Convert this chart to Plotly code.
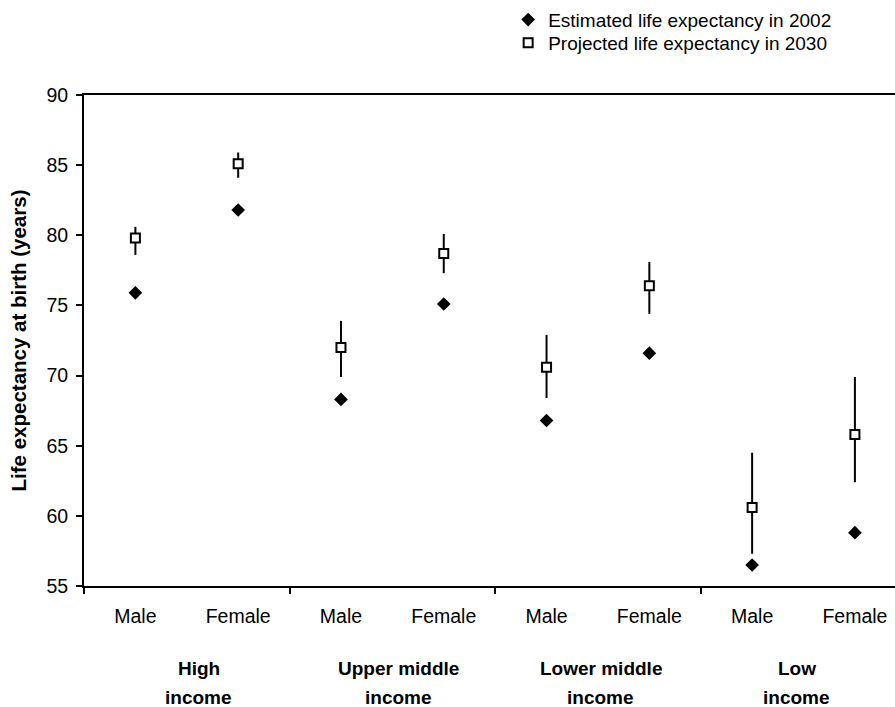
import plotly.graph_objects as go

# Income groups and sexes, in drawing order along the x axis
groups = ["High", "Upper middle", "Lower middle", "Low"]
group_second_line = ["income", "income", "income", "income"]
sexes = ["Male", "Female", "Male", "Female", "Male", "Female", "Male", "Female"]

# Life expectancy at birth (years)
estimated_2002 = [75.9, 81.8, 68.3, 75.1, 66.8, 71.6, 56.5, 58.8]
projected_2030 = [79.8, 85.1, 72.0, 78.7, 70.6, 76.4, 60.6, 65.8]
projected_high = [80.6, 85.9, 73.9, 80.1, 72.9, 78.1, 64.5, 69.9]
projected_low = [78.6, 84.1, 69.9, 77.3, 68.4, 74.4, 57.3, 62.4]

y_ticks = [55, 60, 65, 70, 75, 80, 85, 90]

x_pos = list(range(len(sexes)))
err_plus = [h - p for h, p in zip(projected_high, projected_2030)]
err_minus = [p - l for p, l in zip(projected_2030, projected_low)]

FONT = "Liberation Sans, Arial, sans-serif"

fig = go.Figure()

fig.add_trace(go.Scatter(
    x=x_pos, y=estimated_2002, mode="markers",
    name="Estimated life expectancy in 2002",
    marker=dict(symbol="diamond", size=10.5, color="black",
                line=dict(width=0)),
    legend="legend",
))

fig.add_trace(go.Scatter(
    x=x_pos, y=projected_2030, mode="markers",
    name="Projected life expectancy in 2030",
    marker=dict(symbol="square", size=9, color="white",
                line=dict(color="black", width=2)),
    error_y=dict(type="data", symmetric=False, array=err_plus,
                 arrayminus=err_minus, color="black", thickness=2, width=0),
    legend="legend2",
))

# Two-line group labels under the sex labels
label_shift = [12, 6, 3, -7]
for i, (g1, g2) in enumerate(zip(groups, group_second_line)):
    cx = 2 * i + 0.5
    for text, dy in ((g1, -82), (g2, -111)):
        fig.add_annotation(
            x=cx, y=0, xref="x", yref="paper", text=f"<b>{text}</b>",
            showarrow=False, yanchor="middle", xanchor="center",
            xshift=label_shift[i], yshift=dy,
            font=dict(family=FONT, size=19, color="black"),
        )

legend_style = dict(xanchor="left", yanchor="top",
                    font=dict(family=FONT, size=19, color="black"),
                    bgcolor="rgba(0,0,0,0)", itemwidth=30)

fig.update_layout(
    width=895, height=707,
    margin=dict(l=84, r=0, t=95, b=121),
    paper_bgcolor="white", plot_bgcolor="white",
    showlegend=True,
    legend=dict(x=0.523, y=1.192, **legend_style),
    legend2=dict(x=0.523, y=1.145, **legend_style),
    font=dict(family=FONT, size=19, color="black"),
)

fig.update_xaxes(
    range=[-0.5, 7.39],
    tickmode="array", tickvals=x_pos, ticktext=sexes,
    ticks="outside", ticklen=12, tickcolor="rgba(0,0,0,0)",
    tickfont=dict(family=FONT, size=19.5, color="black"),
    showline=True, linecolor="black", linewidth=2, mirror=True,
    showgrid=False, zeroline=False,
    minor=dict(tickmode="array", tickvals=[-0.5, 1.5, 3.5, 5.5],
               ticks="outside", ticklen=6, tickcolor="black", tickwidth=1.5,
               showgrid=False),
)

fig.update_yaxes(
    range=[55, 90], tickmode="array", tickvals=y_ticks,
    ticks="outside", ticklen=6, tickcolor="black", tickwidth=1.5,
    ticklabelstandoff=4,
    tickfont=dict(family=FONT, size=19.5, color="black"),
    showline=True, linecolor="black", linewidth=2, mirror=False,
    showgrid=False, zeroline=False,
    title=dict(text="<b>Life expectancy at birth (years)</b>",
               font=dict(family=FONT, size=20.5, color="black"), standoff=14),
)

fig.write_html("out.html")
